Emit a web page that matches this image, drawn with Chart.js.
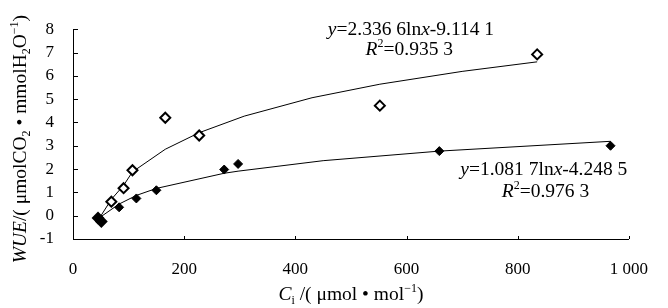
<!DOCTYPE html>
<html>
<head>
<meta charset="utf-8">
<script src="https://cdn.jsdelivr.net/npm/chart.js@4"></script>
<style>
  html, body { margin: 0; padding: 0; background: #fff; }
  #wrap { width: 668px; height: 308px; }
</style>
</head>
<body>
<div id="wrap"><canvas id="chart" width="668" height="308"></canvas></div>
<script>
const ciOpen = [45, 51, 69, 91, 107, 166, 227, 552, 835];
const wueOpen = [-0.1, -0.25, 0.6, 1.18, 1.95, 4.2, 3.44, 4.72, 6.92];
const ciFilled = [45, 51, 83, 114, 150, 272, 297, 659, 967];
const wueFilled = [-0.1, -0.25, 0.36, 0.74, 1.09, 1.98, 2.22, 2.77, 3.0];

const trendOpenX = [45, 69, 91, 107, 166, 227, 308, 430, 552, 700, 835];
const trendOpenY = [-0.2, 0.7, 1.3, 1.88, 2.85, 3.56, 4.27, 5.06, 5.64, 6.19, 6.6];
const trendFilledX = [45, 83, 114, 150, 272, 297, 450, 659, 967];
const trendFilledY = [-0.13, 0.5, 0.87, 1.17, 1.82, 1.91, 2.36, 2.77, 3.19];

const xTicks = [0, 200, 400, 600, 800, 1000];
const yTicks = [-1, 0, 1, 2, 3, 4, 5, 6, 7, 8];

// equation labels, anchored in data units
const notes = [
  { runs: [["y", "i"], ["=2.336 6ln"], ["x", "i"], ["-9.114 1"]], x: 608, y: 7.98 },
  { runs: [["R", "i"], ["2", "sup"], ["=0.935 3"]], x: 605, y: 7.1 },
  { runs: [["y", "i"], ["=1.081 7ln"], ["x", "i"], ["-4.248 5"]], x: 847, y: 1.95 },
  { runs: [["R", "i"], ["2", "sup"], ["=0.976 3"]], x: 850, y: 1.01 },
];

const xTitle = [["C", "i"], ["i", "sub"], [" /( \u03bcmol \u2022 mol"], ["\u22121", "sup"], [")"]];
const yTitle = [["WUE", "i"], ["/( \u03bcmolCO"], ["2", "sub"], [" \u2022 mmolH"], ["2", "sub"], ["O"], ["\u22121", "sup"], [")"]];

const FONT = "'Liberation Serif', 'Times New Roman', serif";

function runFont(style, size) {
  const small = style === "sub" || style === "sup";
  const s = small ? Math.round(size * 0.62) : size;
  return (style === "i" ? "italic " : "") + s + "px " + FONT;
}
function runsWidth(ctx, runs, size) {
  let w = 0;
  runs.forEach(([t, st]) => { ctx.font = runFont(st, size); w += ctx.measureText(t).width; });
  return w;
}
function drawRuns(ctx, runs, size, cx, cy) {
  let x = cx - runsWidth(ctx, runs, size) / 2;
  ctx.textBaseline = "middle";
  ctx.textAlign = "left";
  runs.forEach(([t, st]) => {
    ctx.font = runFont(st, size);
    let dy = 0;
    if (st === "sub") dy = size * 0.3;
    if (st === "sup") dy = -size * 0.3;
    ctx.fillText(t, x, cy + dy);
    x += ctx.measureText(t).width;
  });
}

const decor = {
  id: "decor",
  afterDraw(chart) {
    const ctx = chart.ctx;
    const xs = chart.scales.x, ys = chart.scales.y;
    const area = chart.chartArea;
    ctx.save();
    ctx.strokeStyle = "#000";
    ctx.lineWidth = 1;
    ctx.beginPath();
    yTicks.forEach(v => {
      const py = Math.round(ys.getPixelForValue(v)) + 0.5;
      ctx.moveTo(area.left, py);
      ctx.lineTo(area.left + 5, py);
    });
    xTicks.forEach(v => {
      const px = Math.round(xs.getPixelForValue(v)) + 0.5;
      ctx.moveTo(px, area.bottom);
      ctx.lineTo(px, area.bottom - 3);
    });
    ctx.stroke();
    ctx.fillStyle = "#000";
    notes.forEach(n => drawRuns(ctx, n.runs, 19.5, xs.getPixelForValue(n.x), ys.getPixelForValue(n.y)));
    drawRuns(ctx, xTitle, 19.5, (area.left + area.right) / 2, 295);
    ctx.translate(21, (area.top + area.bottom) / 2 + 5);
    ctx.rotate(-Math.PI / 2);
    drawRuns(ctx, yTitle, 19.5, 0, 0);
    ctx.restore();
  }
};

const toXY = (xa, ya) => xa.map((x, i) => ({ x: x, y: ya[i] }));

new Chart(document.getElementById("chart"), {
  type: "scatter",
  data: {
    datasets: [
      { data: toXY(trendOpenX, trendOpenY), order: 4, showLine: true, borderColor: "#000", borderWidth: 1, pointRadius: 0, tension: 0 },
      { data: toXY(trendFilledX, trendFilledY), order: 3, showLine: true, borderColor: "#000", borderWidth: 1, pointRadius: 0, tension: 0 },
      { data: toXY(ciOpen, wueOpen), order: 2, pointStyle: "rectRot", pointRadius: 5, backgroundColor: "#fff", borderColor: "#000", borderWidth: 2 },
      { data: toXY(ciFilled, wueFilled), order: 1, pointStyle: "rectRot", pointRadius: 4.5, backgroundColor: "#000", borderColor: "#000", borderWidth: 1 },
    ],
  },
  options: {
    responsive: false,
    animation: false,
    layout: { padding: { left: 0, right: 35, top: 20, bottom: 0 } },
    plugins: { legend: { display: false }, tooltip: { enabled: false } },
    scales: {
      x: {
        type: "linear",
        min: 0, max: 1000,
        afterBuildTicks: (s) => { s.ticks = xTicks.map(v => ({ value: v })); },
        afterFit: (s) => { s.height = 69; },
        grid: { display: false, drawTicks: false },
        border: { display: true, color: "#000", width: 1 },
        ticks: {
          color: "#000",
          padding: 20,
          maxRotation: 0,
          autoSkip: false,
          font: { family: FONT, size: 17 },
          callback: (v) => v === 1000 ? "1 000" : String(v),
        },
      },
      y: {
        min: -1, max: 8,
        afterBuildTicks: (s) => { s.ticks = yTicks.map(v => ({ value: v })); },
        afterFit: (s) => { s.width = 73; },
        grid: { display: false, drawTicks: false },
        border: { display: true, color: "#000", width: 1 },
        ticks: {
          color: "#000",
          padding: 19,
          autoSkip: false,
          font: { family: FONT, size: 17 },
        },
      },
    },
  },
  plugins: [decor],
});
</script>
</body>
</html>
